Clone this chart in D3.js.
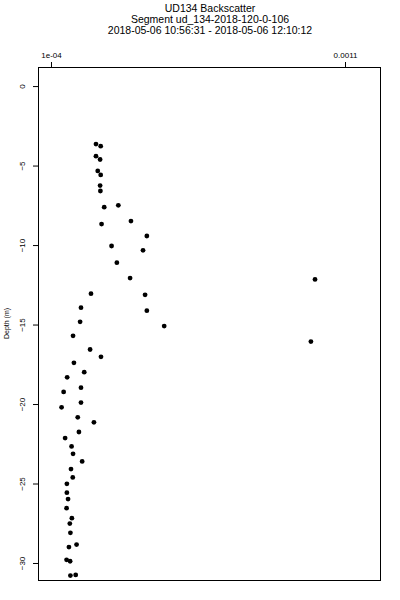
<!DOCTYPE html>
<html>
<head>
<meta charset="utf-8">
<script src="https://cdn.jsdelivr.net/npm/d3@7"></script>
<style>
  body { margin: 0; background: #fff; }
  svg { display: block; font-family: "Liberation Sans", Arial, sans-serif; }
</style>
</head>
<body>
<svg width="400" height="600"></svg>
<script>
// title lines
var titleLines = [
  "UD134 Backscatter",
  "Segment ud_134-2018-120-0-106",
  "2018-05-06 10:56:31 - 2018-05-06 12:10:12"
];

// backscatter values and depths (m)
var backscatter = [
  2.53e-4, 2.69e-4, 2.53e-4, 2.67e-4, 2.59e-4, 2.69e-4, 2.67e-4, 2.68e-4,
  2.81e-4, 3.29e-4, 3.72e-4, 2.72e-4, 4.26e-4, 3.06e-4, 4.13e-4, 3.24e-4,
  3.69e-4, 2.36e-4, 4.20e-4, 2.02e-4, 4.26e-4, 1.99e-4, 4.85e-4, 1.75e-4,
  2.33e-4, 2.70e-4, 1.78e-4, 2.13e-4, 1.55e-4, 2.02e-4, 1.43e-4, 2.02e-4,
  1.36e-4, 1.91e-4, 2.46e-4, 1.95e-4, 1.48e-4, 1.70e-4, 1.75e-4, 2.06e-4,
  1.68e-4, 1.74e-4, 1.54e-4, 1.54e-4, 1.58e-4, 1.53e-4, 1.71e-4, 1.64e-4,
  1.66e-4, 1.87e-4, 1.61e-4, 1.53e-4, 1.65e-4, 1.66e-4, 1.84e-4,
  9.98e-4, 9.84e-4
];
var depth = [
  -3.65, -3.78, -4.41, -4.62, -5.34, -5.59, -6.26, -6.60,
  -7.62, -7.50, -8.49, -8.68, -9.43, -10.06, -10.33, -11.11,
  -12.08, -13.06, -13.13, -13.94, -14.13, -14.83, -15.10, -15.71,
  -16.57, -17.03, -17.41, -18.00, -18.32, -18.97, -19.24, -19.91,
  -20.21, -20.84, -21.15, -21.76, -22.14, -22.67, -23.13, -23.61,
  -24.09, -24.62, -25.02, -25.58, -25.98, -26.55, -27.18, -27.52,
  -28.10, -28.84, -29.00, -29.80, -29.89, -30.79, -30.75,
  -12.16, -16.07
];

var xTicks = [1e-4, 0.0011];
var xTickLabels = ["1e-04", "0.0011"];
var yTicks = [0, -5, -10, -15, -20, -25, -30];

var svg = d3.select("svg"),
  margin = {top: 67, right: 20, bottom: 20, left: 38},
  width = 380 - margin.left,
  height = 580 - margin.top;

var x = d3.scaleLinear()
  .domain([0.0000558, 0.001219])
  .range([margin.left, margin.left + width]);

var y = d3.scaleLinear()
  .domain([1.2, -31.07])
  .range([margin.top, margin.top + height]);

// title
svg.append("g").selectAll("text")
  .data(titleLines)
  .enter().append("text")
  .attr("x", 210)
  .attr("y", (d, i) => 12 + i * 11)
  .attr("text-anchor", "middle")
  .style("font-size", "10.5px")
  .text(d => d);

// top axis
var xAxis = d3.axisTop(x)
  .tickValues(xTicks)
  .tickFormat((d, i) => xTickLabels[i])
  .tickSizeOuter(0)
  .tickSize(5)
  .tickPadding(4.5);

svg.append("g")
  .attr("transform", "translate(0," + margin.top + ")")
  .call(xAxis)
  .call(g => g.select(".domain").remove())
  .call(g => g.selectAll("text").style("font-size", "8px").attr("fill", "#000").style("font-family", "Liberation Sans, Arial"));

// left axis
var yAxis = d3.axisLeft(y)
  .tickValues(yTicks)
  .tickSize(5)
  .tickPadding(4);

var ya = svg.append("g")
  .attr("transform", "translate(" + margin.left + ",0)")
  .call(yAxis)
  .call(g => g.select(".domain").remove());

ya.selectAll("text")
  .attr("x", null).attr("dy", null)
  .attr("transform", "translate(-13,0) rotate(-90)")
  .attr("text-anchor", "middle")
  .style("font-size", "8px")
  .style("font-family", "Liberation Sans, Arial")
  .attr("fill", "#000");

// box
svg.append("rect")
  .attr("x", margin.left + 0.5)
  .attr("y", margin.top + 0.5)
  .attr("width", width)
  .attr("height", height)
  .attr("fill", "none")
  .attr("stroke", "#000")
  .attr("stroke-width", 1);

// y label
svg.append("text")
  .attr("transform", "translate(9," + (margin.top + height / 2) + ") rotate(-90)")
  .attr("text-anchor", "middle")
  .style("font-size", "7px")
  .text("Depth (m)");

// points
svg.append("g").selectAll("circle")
  .data(backscatter.map((v, i) => ({v: v, d: depth[i]})))
  .enter().append("circle")
  .attr("cx", d => x(d.v))
  .attr("cy", d => y(d.d))
  .attr("r", 2.4)
  .attr("fill", "#000");
</script>
</body>
</html>
